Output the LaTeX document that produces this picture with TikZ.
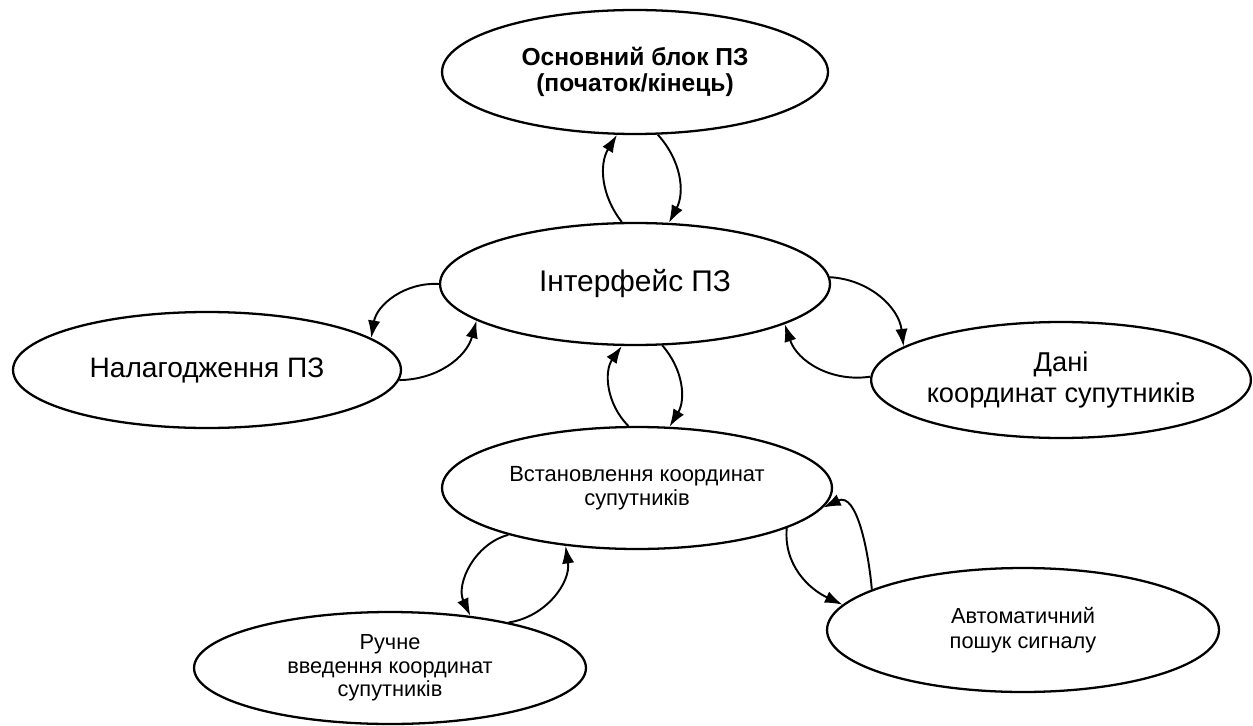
\documentclass[tikz,border=0pt]{standalone}
\usepackage{fontspec}
\setmainfont{Liberation Sans}
\usetikzlibrary{shapes.geometric,arrows.meta}

\begin{document}
\begin{tikzpicture}[x=0.02cm, y=-0.02cm,
		blok/.style={ellipse, draw, line width=1.3pt, inner sep=0pt, align=center},
		zv/.style={line width=1.1pt, -{Latex[length=10pt,width=7pt]}}]
		%%%%% START %%%%%
		
		\useasboundingbox (0,0) rectangle (1253,726);
		
		\node[blok, minimum width=7.72cm, minimum height=2.48cm, font={\fontsize{14}{15}\selectfont\bfseries}] (osn) at (635,72) {Основний блок ПЗ\\(початок/кінець)};
		\node[blok, minimum width=7.8cm, minimum height=2.44cm, font={\fontsize{17}{19}\selectfont}] (intf) at (635,284) {Інтерфейс ПЗ};
		
		\node[blok, minimum width=7.76cm, minimum height=2.32cm, font={\fontsize{16}{19}\selectfont}] (nal) at (207,370) {Налагодження ПЗ};
		\node[blok, minimum width=7.56cm, minimum height=2.32cm, font={\fontsize{15.5}{17.5}\selectfont}] (dani) at (1061,380) {Дані\\координат супутників};
		
		\node[blok, minimum width=7.8cm, minimum height=2.44cm, font={\fontsize{12.5}{13.7}\selectfont}] (vst) at (637,488) {Встановлення координат\\супутників};
		\node[blok, minimum width=7.84cm, minimum height=2.24cm, font={\fontsize{12.4}{13.3}\selectfont}] (ruch) at (390,668) {Ручне\\введення координат\\супутників};
		\node[blok, minimum width=7.84cm, minimum height=2.48cm, font={\fontsize{12.4}{14}\selectfont}] (avto) at (1023,630) {Автоматичний\\пошук сигналу};
		
		\draw[zv] (intf.102) to[bend left=35] (osn.254);
		\draw[zv] (osn.290) to[bend left=35] (intf.61);
		
		\draw[zv] (intf.180) to[bend right=42] (nal.11);
		\draw[zv] (nal.357) to[bend right=37] (intf.193);
		\draw[zv] (intf.2) to[bend left=40] (dani.168);
		\draw[zv] (dani.179) to[bend left=40] (intf.345);
		
		\draw[zv] (vst.98) to[bend left=40] (intf.258);
		\draw[zv] (intf.294) to[bend left=36] (vst.62);
		
		\draw[zv] (vst.200) to[bend right=50] (ruch.33);
		\draw[zv] (ruch.21) to[bend right=45] (vst.219);
		\draw[zv] (vst.345) to[out=265, in=155] (avto.172);
		\draw[zv] (avto.165) to[out=95, in=25] (vst.354);
		
		%%%%% END %%%%%
	\end{tikzpicture}
\end{document}
